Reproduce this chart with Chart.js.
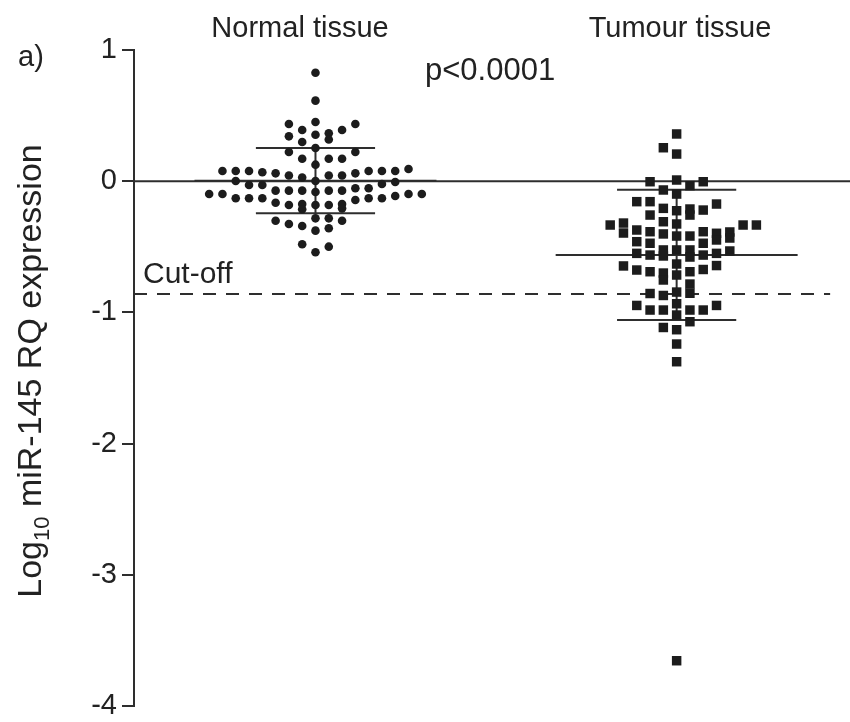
<!DOCTYPE html>
<html><head><meta charset="utf-8">
<script src="https://cdn.jsdelivr.net/npm/chart.js@4"></script>
<style>html,body{margin:0;padding:0;background:#fff;}canvas{display:block;}</style>
</head><body>
<canvas id="c" width="850" height="722"></canvas>
<script>
// ---------- data ----------
const groups = ['Normal tissue', 'Tumour tissue'];
const yTicks = [1, 0, -1, -2, -3, -4];
const normalValues = [0.827,0.614,0.436,0.451,0.436,0.390,0.390,0.365,0.342,0.354,0.318,0.299,0.223,0.253,0.223,0.171,0.171,0.171,0.126,
  0.078,0.078,0.078,0.068,0.060,0.043,0.028,0.043,0.043,0.060,0.078,0.078,0.078,0.093,
  0.002,-0.029,-0.029,0.002,-0.021,-0.006,
  -0.098,-0.098,-0.130,-0.130,-0.130,-0.072,-0.072,-0.072,-0.082,-0.072,-0.072,-0.054,-0.054,-0.143,-0.130,-0.130,-0.113,-0.098,-0.098,
  -0.164,-0.181,-0.174,-0.181,-0.181,-0.174,-0.214,-0.207,
  -0.301,-0.326,-0.341,-0.283,-0.283,-0.301,-0.377,-0.359,-0.481,-0.499,-0.542];
const normalSlots = [0,0,-2,0,3,-1,2,1,-2,0,1,-1,-2,0,3,-1,1,2,0,
  -7,-6,-5,-4,-3,-2,-1,1,2,3,4,5,6,7,
  -6,-5,-4,0,5,6,
  -8,-7,-6,-5,-4,-3,-2,-1,0,1,2,3,4,3,4,5,6,7,8,
  -3,-2,-1,0,1,2,-1,2,
  -3,-2,-1,0,1,2,0,1,-1,1,0];
const tumourValues = [0.360,0.255,0.207,-0.004,0.009,-0.034,-0.004,-0.067,-0.098,-0.156,-0.156,-0.207,-0.225,-0.212,-0.258,-0.220,-0.174,-0.258,
  -0.309,-0.326,-0.334,-0.319,-0.395,-0.372,-0.385,-0.402,-0.418,-0.418,-0.385,-0.397,-0.448,-0.387,-0.433,-0.334,-0.334,
  -0.461,-0.473,-0.473,-0.550,-0.563,-0.524,-0.570,-0.524,-0.524,-0.578,-0.563,-0.550,-0.532,
  -0.646,-0.677,-0.690,-0.700,-0.753,-0.631,-0.715,-0.690,-0.784,-0.673,-0.643,
  -0.856,-0.871,-0.845,-0.854,-0.947,-0.982,-0.982,-0.934,-0.982,-0.982,-0.947,
  -1.020,-1.071,-1.115,-1.132,-1.241,-1.376,-3.655];
const tumourSlots = [0,-1,0,-2,0,1,2,-1,0,-3,-2,-1,0,1,1,2,3,-2,
  -1,0,-5,-4,-4,-3,-2,-1,0,1,2,3,3,4,4,5,6,
  -3,-2,2,-3,-2,-1,-1,0,1,1,2,3,4,
  -4,-3,-2,-1,-1,0,0,1,1,2,3,
  -2,-1,0,1,-3,-2,-1,0,1,2,3,
  0,1,-1,0,0,0,0];
const groupMeans = [0.004, -0.562];
const groupSDs = [0.249, 0.496];
const cutOff = -0.86;
const pValueLabel = 'p<0.0001';

// ---------- layout / style ----------
const FONT = '"Liberation Sans", Arial, Helvetica, sans-serif';
const SLOT = 0.0368;
const X_MIN = 0.4975, X_MAX = 2.48;
const INK = '#1c1c1c', LINE = '#2e2e2e';

const pts = (vals, slots, g) => vals.map((v, i) => ({x: g + slots[i] * SLOT, y: v}));
const seg = (x0, y0, x1, y1, extra) => Object.assign({
  type: 'scatter', showLine: true, data: [{x: x0, y: y0}, {x: x1, y: y1}],
  borderColor: LINE, borderWidth: 2, pointRadius: 0, fill: false
}, extra || {});

const datasets = [
  {type: 'scatter', data: pts(normalValues, normalSlots, 1), pointStyle: 'circle', pointRadius: 4.3,
   backgroundColor: INK, borderWidth: 0},
  {type: 'scatter', data: pts(tumourValues, tumourSlots, 2), pointStyle: 'rect', pointRadius: 6.7,
   backgroundColor: INK, borderWidth: 0},
  seg(X_MIN, 0, X_MAX, 0),
  seg(X_MIN, cutOff, 2.425, cutOff, {borderDash: [13, 10]}),
];
groupMeans.forEach((m, i) => {
  const g = i + 1, sd = groupSDs[i];
  datasets.push(seg(g - 0.335, m, g + 0.335, m));
  datasets.push(seg(g - 0.165, m + sd, g + 0.165, m + sd));
  datasets.push(seg(g - 0.165, m - sd, g + 0.165, m - sd));
  datasets.push(seg(g, m - sd, g, m + sd));
});

const textPlugin = {
  id: 'texts',
  afterDraw(chart) {
    const ctx = chart.ctx, ys = chart.scales.y;
    ctx.save();
    ctx.fillStyle = '#222';
    ctx.textBaseline = 'alphabetic';
    ctx.font = '29px ' + FONT;
    ctx.textAlign = 'center';
    ctx.fillText(groups[0], 300, 37);
    ctx.fillText(groups[1], 680, 37);
    ctx.textAlign = 'left';
    ctx.fillText('a)', 18, 66);
    ctx.font = '31px ' + FONT;
    ctx.fillText(pValueLabel, 425, 80);
    ctx.font = '30px ' + FONT;
    ctx.fillText('Cut-off', 143, ys.getPixelForValue(cutOff) - 11);
    // rotated y-axis title with subscript
    const big = '34px ' + FONT, small = '22px ' + FONT;
    const p1 = 'Log', p2 = '10', p3 = ' miR-145 RQ expression';
    ctx.font = big; const w1 = ctx.measureText(p1).width, w3 = ctx.measureText(p3).width;
    ctx.font = small; const w2 = ctx.measureText(p2).width;
    const total = w1 + w2 + w3;
    ctx.translate(41, 371);
    ctx.rotate(-Math.PI / 2);
    let x = -total / 2;
    ctx.font = big; ctx.fillText(p1, x, 0); x += w1;
    ctx.font = small; ctx.fillText(p2, x, 8); x += w2;
    ctx.font = big; ctx.fillText(p3, x, 0);
    ctx.restore();
  }
};

new Chart(document.getElementById('c'), {
  type: 'scatter',
  data: {datasets},
  options: {
    responsive: false, animation: false, devicePixelRatio: 1,
    layout: {autoPadding: false, padding: {top: 50, bottom: 16, left: 0, right: 0}},
    plugins: {legend: {display: false}, tooltip: {enabled: false}},
    scales: {
      x: {type: 'linear', display: false, min: X_MIN, max: X_MAX},
      y: {
        type: 'linear', min: -4, max: 1,
        afterBuildTicks: s => { s.ticks = yTicks.map(v => ({value: v})); },
        afterFit: s => { s.width = 134; s.paddingTop = 0; s.paddingBottom = 0; },
        ticks: {font: {family: FONT, size: 29}, color: '#222', padding: 5, callback: v => String(v)},
        grid: {display: true, drawOnChartArea: false, drawTicks: true, tickLength: 12, lineWidth: 2, color: LINE},
        border: {display: true, width: 2, color: LINE}
      }
    }
  },
  plugins: [textPlugin]
});
</script>
</body></html>
